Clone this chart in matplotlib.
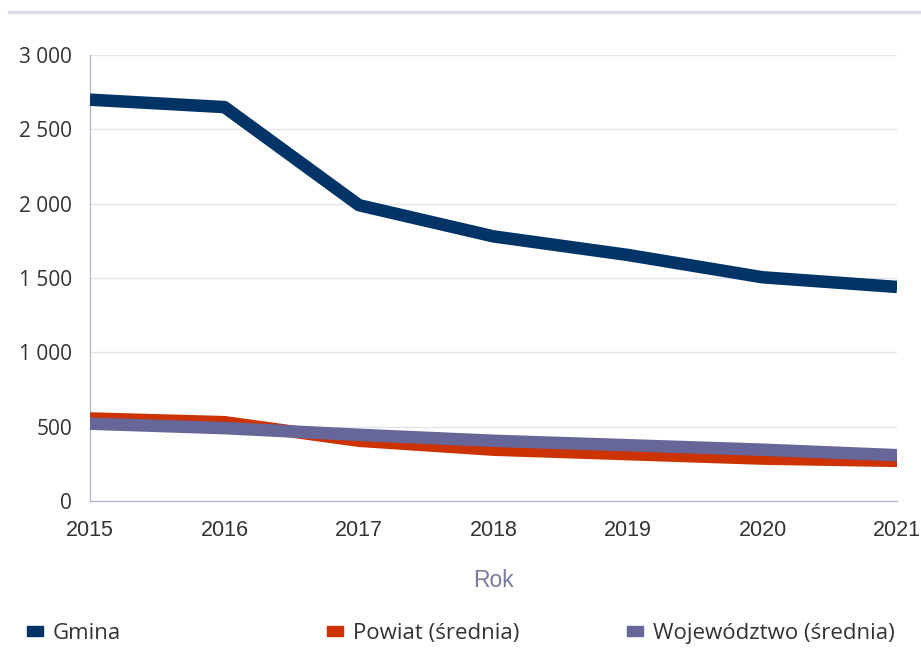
import matplotlib
matplotlib.use('Agg')
import matplotlib.pyplot as plt
from matplotlib.lines import Line2D
from matplotlib.ticker import FuncFormatter

years = [2015, 2016, 2017, 2018, 2019, 2020, 2021]
gmina = [2700, 2650, 1990, 1780, 1655, 1505, 1440]
powiat = [555, 530, 405, 345, 315, 285, 270]
wojewodztwo = [520, 490, 445, 405, 375, 345, 308]
labels = ['Gmina', 'Powiat (średnia)', 'Województwo (średnia)']

c_gmina = '#003366'
c_powiat = '#cc3300'
c_woj = '#666699'

plt.rcParams['font.family'] = ['Liberation Sans', 'DejaVu Sans']

fig = plt.figure(figsize=(9.21, 6.48), dpi=100)
ax = fig.add_axes([0.0977, 0.2269, 0.8763, 0.6881])

ax.plot(years, powiat, color=c_powiat, lw=9, solid_capstyle='butt', zorder=3)
ax.plot(years, wojewodztwo, color=c_woj, lw=9, solid_capstyle='butt', zorder=4)
ax.plot(years, gmina, color=c_gmina, lw=9, solid_capstyle='butt', zorder=5)

ax.set_xlim(2015, 2021)
ax.set_ylim(0, 3000)
ax.set_xticks(years)
ax.set_yticks(range(0, 3001, 500))
ax.yaxis.set_major_formatter(FuncFormatter(lambda v, p: '{:,}'.format(int(v)).replace(',', ' ')))
ax.grid(axis='y', color='#e4e4ee', lw=1)
ax.set_axisbelow(True)
for s in ['top', 'right']:
    ax.spines[s].set_visible(False)
ax.spines['left'].set_color('#b0b0cc')
ax.spines['bottom'].set_color('#b0b0cc')
ax.tick_params(length=0, colors='#333333')
ax.tick_params(axis='x', labelsize=15.5, pad=14)
ax.tick_params(axis='y', labelsize=15, pad=13)
for t in ax.get_yticklabels():
    t.set_fontfamily(['Open Sans', 'DejaVu Sans'])
ax.set_xlabel('Rok', fontsize=16.5, color='#7a7aa0', labelpad=20)

# decorative line at top
fig.add_artist(Line2D([0.01, 1.0], [0.981, 0.981], color='#dcdce6', lw=2.5))

box = [(-1, -0.6), (1, -0.6), (1, 0.6), (-1, 0.6), (-1, -0.6)]
colors = [c_gmina, c_powiat, c_woj]
for i in range(3):
    h = Line2D([], [], marker=box, ls='', color=colors[i], markersize=11)
    fig.legend([h], [labels[i]], loc='center left', bbox_to_anchor=(0.005 + i * 0.326, 0.023),
               frameon=False, handletextpad=0.35, handlelength=0.9, labelcolor='#333333',
               prop={'family': ['Open Sans', 'DejaVu Sans'], 'size': 16})

fig.savefig('out.png', dpi=100)
